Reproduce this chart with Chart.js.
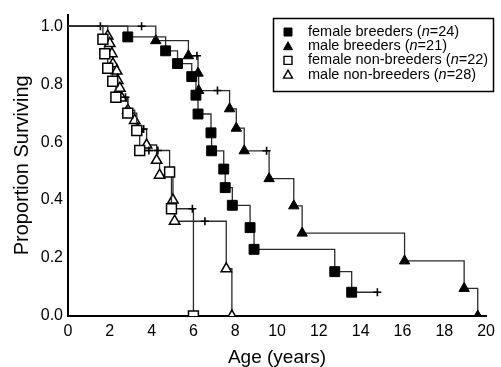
<!DOCTYPE html>
<html>
<head>
<meta charset="utf-8">
<script src="https://cdn.jsdelivr.net/npm/chart.js@4.4.1/dist/chart.umd.min.js"></script>
<style>
  html, body { margin: 0; padding: 0; background: #fff; }
</style>
</head>
<body>
<canvas id="survChart" width="501" height="367"></canvas>
<script>
const FONT = '"Liberation Sans", Arial, Helvetica, sans-serif';

const xTicks = [0, 2, 4, 6, 8, 10, 12, 14, 16, 18, 20];
const yTicks = [0, 0.2, 0.4, 0.6, 0.8, 1.0];

const groupLabels = ['female breeders', 'male breeders', 'female non-breeders', 'male non-breeders'];
const groupN = [24, 21, 22, 28];

// age (years), proportion surviving, censored flag (1 = "+")
const fbAge  = [0, 2.86, 4.67, 5.24, 5.92, 6.12, 6.22, 6.84, 6.87, 7.45, 7.52, 7.86, 8.71, 8.9, 12.76, 13.57, 14.8];
const fbSurv = [1, 0.963, 0.915, 0.871, 0.826, 0.762, 0.697, 0.632, 0.570, 0.507, 0.443, 0.382, 0.305, 0.230, 0.153, 0.082, 0.082];
const fbCens = [0, 0, 0, 0, 0, 0, 0, 0, 0, 0, 0, 0, 0, 0, 0, 0, 1];

const mbAge  = [0, 1.55, 3.52, 4.2, 5.76, 6.17, 6.22, 6.25, 7.15, 7.73, 8.05, 8.43, 9.5, 9.62, 10.8, 11.2, 16.1, 18.95, 19.6];
const mbSurv = [1, 1, 1, 0.95, 0.898, 0.898, 0.838, 0.778, 0.778, 0.715, 0.648, 0.57, 0.57, 0.474, 0.38, 0.286, 0.19, 0.095, 0];
const mbCens = [0, 1, 1, 0, 0, 1, 0, 0, 1, 0, 0, 0, 1, 0, 0, 0, 0, 0, 0];

const fnAge  = [0, 1.67, 1.76, 1.9, 2.14, 2.29, 2.75, 2.86, 3.29, 3.43, 3.87, 4.3, 4.86, 4.95, 5.95, 6.0];
const fnSurv = [1, 0.955, 0.905, 0.855, 0.81, 0.755, 0.755, 0.70, 0.64, 0.571, 0.571, 0.571, 0.497, 0.37, 0.37, 0];
const fnCens = [0, 0, 0, 0, 0, 0, 1, 0, 0, 0, 1, 1, 0, 0, 1, 0];

const mnAge  = [0, 1.9, 2.0, 2.1, 2.15, 2.33, 2.38, 2.48, 2.57, 2.86, 3.19, 3.33, 3.62, 3.76, 4.24, 4.38, 5.02, 5.1, 6.55, 7.57, 7.84];
const mnSurv = [1, 0.966, 0.94, 0.905, 0.87, 0.845, 0.813, 0.786, 0.752, 0.71, 0.675, 0.645, 0.645, 0.59, 0.537, 0.486, 0.40, 0.327, 0.327, 0.163, 0];
const mnCens = [0, 0, 0, 0, 0, 0, 0, 0, 0, 0, 0, 0, 1, 0, 0, 0, 0, 0, 1, 0, 0];

function kmSet(idx, ages, surv, cens, marker, filled) {
  const size = marker === 'rect' ? 7 : 6;
  return {
    label: groupLabels[idx],
    marker: marker,
    filled: filled,
    data: ages.map((a, i) => ({ x: a, y: surv[i] })),
    stepped: 'before',
    fill: false,
    borderColor: '#2b2b2b',
    borderWidth: 1.3,
    pointStyle: cens.map(c => c ? 'cross' : marker),
    pointRadius: cens.map((c, i) => i === 0 ? 0 : (c ? 4 : size)),
    pointHoverRadius: cens.map((c, i) => i === 0 ? 0 : (c ? 4 : size)),
    pointBackgroundColor: cens.map(c => (c || filled) ? '#000' : '#fff'),
    pointBorderColor: '#000',
    pointBorderWidth: cens.map(c => c ? 1.6 : (filled ? 1 : 1.5)),
    clip: { left: false, top: false, right: false, bottom: 0 }
  };
}

// legend drawn inside the plot, top right
const boxLegend = {
  id: 'boxLegend',
  afterDraw(chart) {
    const ctx = chart.ctx;
    const left = 273.5, top = 18.5, w = 220, h = 73;
    ctx.save();
    ctx.fillStyle = '#fff';
    ctx.fillRect(left, top, w, h);
    ctx.strokeStyle = '#000';
    ctx.lineWidth = 1.5;
    ctx.strokeRect(left, top, w, h);

    chart.data.datasets.forEach((ds, i) => {
      const y = 32 + i * 14.2;
      const mx = 288;
      ctx.beginPath();
      if (ds.marker === 'rect') {
        ctx.rect(mx - 4, y - 4, 8, 8);
      } else {
        ctx.moveTo(mx, y - 4.5);
        ctx.lineTo(mx + 4.5, y + 3.5);
        ctx.lineTo(mx - 4.5, y + 3.5);
        ctx.closePath();
      }
      ctx.fillStyle = ds.filled ? '#000' : '#fff';
      ctx.fill();
      ctx.lineWidth = ds.filled ? 1 : 1.4;
      ctx.strokeStyle = '#000';
      ctx.stroke();

      ctx.fillStyle = '#000';
      ctx.textBaseline = 'middle';
      ctx.textAlign = 'left';
      let tx = 308;
      const parts = [[ds.label + ' (', 'normal'], ['n', 'italic'], ['=' + groupN[i] + ')', 'normal']];
      parts.forEach(([t, st]) => {
        ctx.font = st + ' 14.5px ' + FONT;
        ctx.fillText(t, tx, y);
        tx += ctx.measureText(t).width;
      });
    });
    ctx.restore();
  }
};

new Chart(document.getElementById('survChart').getContext('2d'), {
  type: 'line',
  data: {
    datasets: [
      kmSet(0, fbAge, fbSurv, fbCens, 'rect', true),
      kmSet(1, mbAge, mbSurv, mbCens, 'triangle', true),
      kmSet(2, fnAge, fnSurv, fnCens, 'rect', false),
      kmSet(3, mnAge, mnSurv, mnCens, 'triangle', false)
    ]
  },
  options: {
    responsive: false,
    animation: false,
    layout: { padding: { left: 0, right: 12, top: 10, bottom: 0 } },
    plugins: {
      legend: { display: false },
      tooltip: { enabled: false }
    },
    scales: {
      x: {
        type: 'linear',
        min: 0,
        max: 20,
        grid: { display: false, drawTicks: false },
        border: { display: true, color: '#000', width: 2 },
        afterBuildTicks: s => { s.ticks = xTicks.map(v => ({ value: v })); },
        afterFit: s => { s.height = 51; },
        ticks: {
          padding: 6,
          color: '#000',
          autoSkip: false,
          maxRotation: 0,
          font: { family: FONT, size: 16 },
          callback: v => String(v)
        },
        title: {
          display: true,
          text: 'Age (years)',
          color: '#000',
          font: { family: FONT, size: 19, lineHeight: 1 },
          padding: { top: 0, bottom: 0 }
        }
      },
      y: {
        type: 'linear',
        min: 0,
        max: 1.04,
        grid: { display: false, drawTicks: false },
        border: { display: true, color: '#000', width: 2 },
        afterBuildTicks: s => { s.ticks = yTicks.map(v => ({ value: v })); },
        afterFit: s => { s.width = 68; },
        ticks: {
          padding: 5,
          color: '#000',
          font: { family: FONT, size: 16 },
          callback: v => Number(v).toFixed(1)
        },
        title: {
          display: true,
          text: 'Proportion Surviving',
          color: '#000',
          font: { family: FONT, size: 20, lineHeight: 1 },
          padding: { top: 12, bottom: 0 }
        }
      }
    }
  },
  plugins: [boxLegend]
});
</script>
</body>
</html>
